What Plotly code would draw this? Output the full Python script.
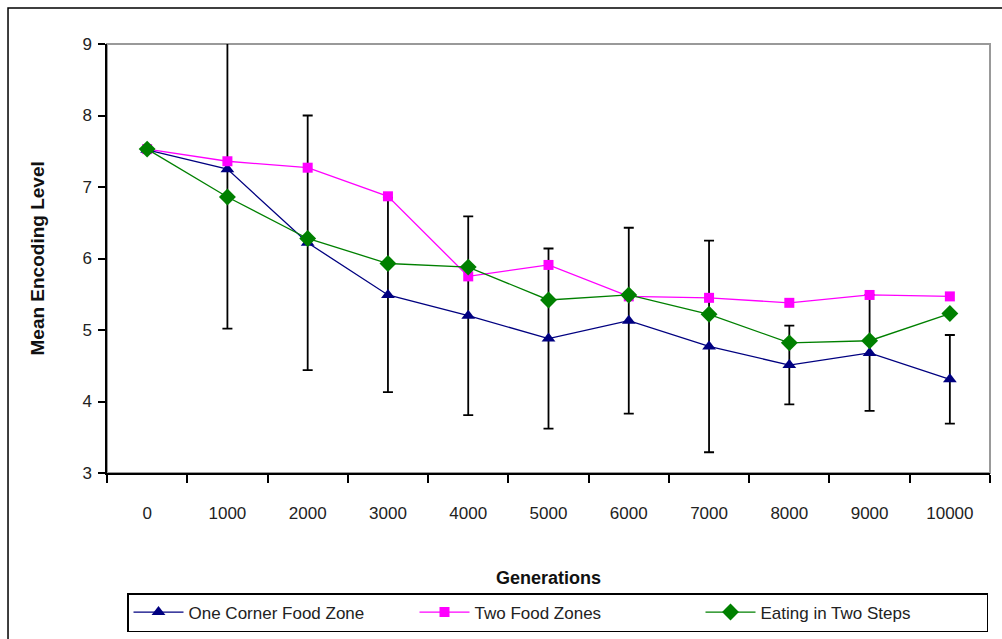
import plotly.graph_objects as go

# Generations sampled along the run
generations = ["0", "1000", "2000", "3000", "4000", "5000",
               "6000", "7000", "8000", "9000", "10000"]

# Mean encoding level per environment
one_corner = [7.52, 7.25, 6.22, 5.49, 5.20, 4.88, 5.13, 4.77, 4.51, 4.68, 4.31]
one_corner_err = [0.0, 2.23, 1.78, 1.36, 1.39, 1.26, 1.30, 1.48, 0.55, 0.81, 0.62]
two_zones = [7.53, 7.36, 7.27, 6.87, 5.75, 5.91, 5.47, 5.45, 5.38, 5.49, 5.47]
two_steps = [7.53, 6.86, 6.28, 5.93, 5.88, 5.42, 5.49, 5.22, 4.82, 4.85, 5.23]

FONT = "Liberation Sans, Arial, sans-serif"

fig = go.Figure()

fig.add_trace(go.Scatter(
    x=generations, y=one_corner, name="One Corner Food Zone",
    mode="lines+markers",
    line=dict(color="#000080", width=1.3),
    marker=dict(symbol="triangle-up", size=12, color="#000080"),
    error_y=dict(type="data", array=one_corner_err, visible=True,
                 color="#000000", thickness=1.8, width=5),
))
fig.add_trace(go.Scatter(
    x=generations, y=two_zones, name="Two Food Zones",
    mode="lines+markers",
    line=dict(color="#FF00FF", width=1.3),
    marker=dict(symbol="square", size=10, color="#FF00FF"),
))
fig.add_trace(go.Scatter(
    x=generations, y=two_steps, name="Eating in Two Steps",
    mode="lines+markers",
    line=dict(color="#008000", width=1.3),
    marker=dict(symbol="diamond", size=13, color="#008000"),
))

# Plot-area frame and outer chart frame
fig.add_shape(type="rect", xref="paper", yref="paper", x0=0, x1=1, y0=0, y1=1,
              line=dict(color="#999999", width=2), layer="below")
fig.add_shape(type="rect", xref="paper", yref="paper",
              x0=-0.1121, x1=1.03, y0=-0.42, y1=1.0839,
              line=dict(color="#000000", width=1.5), layer="below")

fig.add_annotation(text="<b>Mean Encoding Level</b>", textangle=-90,
                   xref="paper", yref="paper", x=(37 - 107) / 883, y=0.5,
                   xanchor="center", yanchor="middle",
                   showarrow=False, font=dict(family=FONT, size=19, color="#111"))
fig.add_annotation(text="<b>Generations</b>",
                   xref="paper", yref="paper", x=0.5, y=(473 - 578) / 429,
                   xanchor="center", yanchor="middle",
                   showarrow=False, font=dict(family=FONT, size=18, color="#111"))

fig.update_layout(
    width=1002, height=639,
    margin=dict(l=107, r=12, t=44, b=166, autoexpand=False),
    paper_bgcolor="white", plot_bgcolor="white",
    font=dict(family=FONT, size=17, color="#222"),
    showlegend=True,
    legend=dict(
        orientation="h", x=(127 - 107) / 883, xanchor="left",
        y=(473 - 593) / 429, yanchor="top",
        bordercolor="#000000", borderwidth=1.5,
        font=dict(family=FONT, size=17, color="#222"),
        itemwidth=50, entrywidth=221, traceorder="normal",
    ),
    xaxis=dict(
        type="category", tickson="boundaries",
        ticks="outside", ticklen=8, tickcolor="#000", tickwidth=1.5,
        showline=True, linecolor="#000", linewidth=1.5,
        showgrid=False, zeroline=False, ticklabelstandoff=24,
        range=[-0.5, 10.5],
    ),
    yaxis=dict(
        range=[3, 9], dtick=1, tick0=3,
        ticks="outside", ticklen=7, tickcolor="#000", tickwidth=1.5,
        showline=True, linecolor="#000", linewidth=1.5,
        showgrid=False, zeroline=False, ticklabelstandoff=3,
    ),
)

fig.write_html("out.html")
